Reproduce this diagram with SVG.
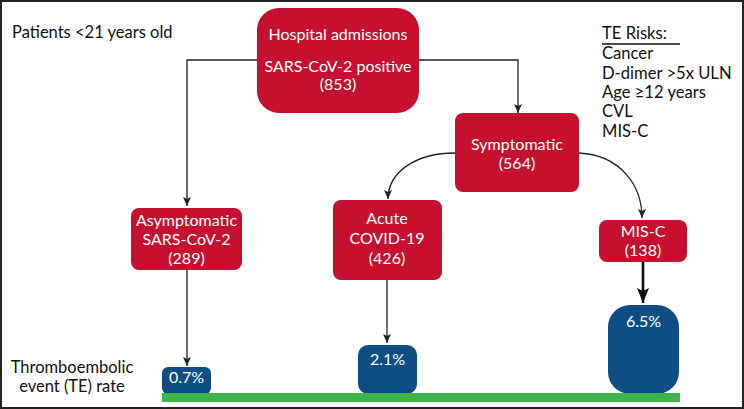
<svg xmlns="http://www.w3.org/2000/svg" width="744" height="409" viewBox="0 0 744 409">
<defs>
<marker id="ah" markerWidth="10" markerHeight="10" refX="9" refY="5" orient="auto" markerUnits="userSpaceOnUse">
<path d="M0,1 L9,5 L0,9 L2,5 Z" fill="#222"/>
</marker>
<marker id="ahb" markerWidth="16" markerHeight="14" refX="15" refY="7" orient="auto" markerUnits="userSpaceOnUse">
<path d="M0,1 L15,7 L0,13 L3,7 Z" fill="#111"/>
</marker>
<style>
.red{fill:#C5112F}
.blue{fill:#0F4E85}
.wt{fill:#fff;font-family:Lato,"Liberation Sans",sans-serif;font-size:16px;text-anchor:middle}
.bt{fill:#111;font-family:Lato,"Liberation Sans",sans-serif;font-size:16.5px}
.rk{fill:#111;font-family:Lato,"Liberation Sans",sans-serif;font-size:16.6px}
.ln{fill:none;stroke:#222;stroke-width:1.3}
</style>
</defs>
<rect x="1" y="1" width="742" height="407" fill="#fff" stroke="#222" stroke-width="2"/>
<g id="connectors">
<path class="ln" d="M257,60 H187 V206" marker-end="url(#ah)"/>
<path class="ln" d="M419,60 H518 V113" marker-end="url(#ah)"/>
<path class="ln" d="M455,153 C416,153 388,172 388,199" marker-end="url(#ah)"/>
<path class="ln" d="M579,153 C620,155 642,185 642,218" marker-end="url(#ah)"/>
<path class="ln" d="M187,270 V366" marker-end="url(#ah)"/>
<path class="ln" d="M387,280 V343" marker-end="url(#ah)"/>
<path d="M643,262 V303" fill="none" stroke="#111" stroke-width="2.6" marker-end="url(#ahb)"/>
</g>
<g id="label-patients"><text class="bt" x="12" y="38">Patients &lt;21 years old</text></g>
<g id="te-risks">
<text class="rk" x="602" y="39">TE Risks:</text>
<line x1="602" y1="44" x2="680" y2="44" stroke="#111" stroke-width="1.3"/>
<text class="rk" x="602" y="59">Cancer</text>
<text class="rk" x="602" y="78.5">D-dimer &gt;5x ULN</text>
<text class="rk" x="602" y="98">Age ≥12 years</text>
<text class="rk" x="602" y="117">CVL</text>
<text class="rk" x="602" y="136.5">MIS-C</text>
</g>
<g id="label-te-rate">
<text class="bt" x="72" y="373" text-anchor="middle">Thromboembolic</text>
<text class="bt" x="72" y="391.5" text-anchor="middle">event (TE) rate</text>
</g>
<g id="hospital">
<rect class="red" x="257" y="8" width="162" height="105" rx="22"/>
<text class="wt" x="338" y="40">Hospital admissions</text>
<text class="wt" x="338" y="72">SARS-CoV-2 positive</text>
<text class="wt" x="338" y="90">(853)</text>
</g>
<g id="symptomatic">
<rect class="red" x="455" y="113" width="124" height="79" rx="8"/>
<text class="wt" x="517" y="150">Symptomatic</text>
<text class="wt" x="517" y="169">(564)</text>
</g>
<g id="asymptomatic">
<rect class="red" x="131" y="208" width="111" height="62" rx="8"/>
<text class="wt" x="186.5" y="225.5">Asymptomatic</text>
<text class="wt" x="186.5" y="245">SARS-CoV-2</text>
<text class="wt" x="186.5" y="264">(289)</text>
</g>
<g id="acute">
<rect class="red" x="333" y="200" width="109" height="80" rx="8"/>
<text class="wt" x="387" y="224">Acute</text>
<text class="wt" x="387" y="244">COVID-19</text>
<text class="wt" x="387" y="264">(426)</text>
</g>
<g id="misc">
<rect class="red" x="599" y="220" width="88" height="42" rx="8"/>
<text class="wt" x="643" y="236.5">MIS-C</text>
<text class="wt" x="643" y="255.5">(138)</text>
</g>
<g id="rate-07">
<rect class="blue" x="162" y="367" width="49" height="27" rx="6"/>
<text class="wt" x="186.5" y="383">0.7%</text>
</g>
<g id="rate-21">
<rect class="blue" x="358" y="345" width="59" height="49" rx="10"/>
<text class="wt" x="387.5" y="365">2.1%</text>
</g>
<g id="rate-65">
<rect class="blue" x="608" y="305" width="71" height="89" rx="22"/>
<text class="wt" x="643.5" y="327">6.5%</text>
</g>
<rect id="baseline" x="162" y="393" width="518" height="9" fill="#3BB54A"/>
</svg>
